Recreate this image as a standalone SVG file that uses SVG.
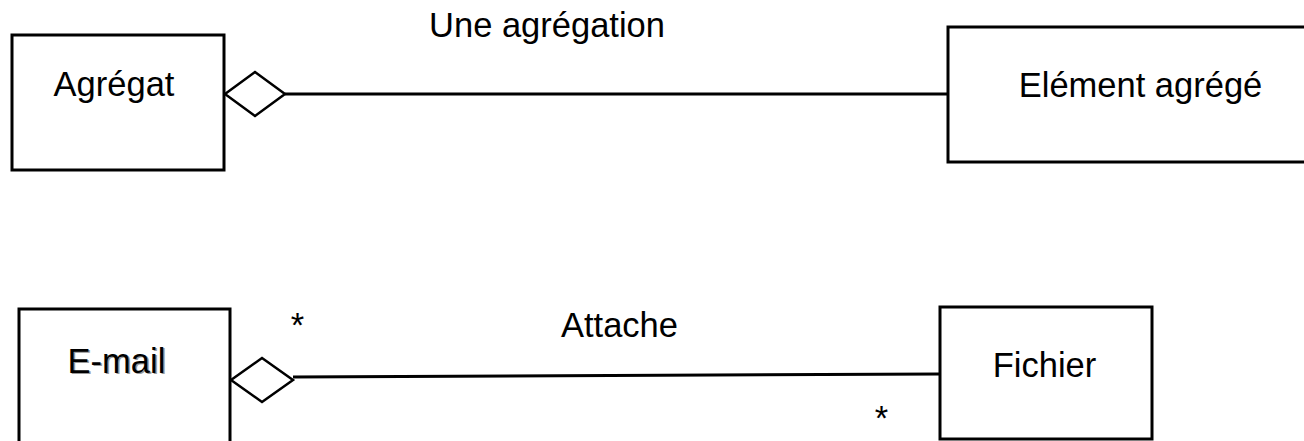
<svg xmlns="http://www.w3.org/2000/svg" width="1304" height="441" viewBox="0 0 1304 441">
<style>
.box{fill:#fff;stroke:#000;stroke-width:3}
.conn{fill:none;stroke:#000;stroke-width:3}
.dia{fill:#fff;stroke:#000;stroke-width:2.5;stroke-linejoin:miter}
text{font-family:"Liberation Sans",Arial,sans-serif;font-size:34.5px;fill:#000}
.shadow{fill:#999}
</style>
<rect width="1304" height="441" fill="#fff"/>
<g id="connectors">
<line class="conn" x1="285" y1="94" x2="948" y2="94"/>
<polygon class="dia" points="225,94 255,72 285,94 255,116"/>
<line class="conn" x1="293" y1="377" x2="940" y2="374"/>
<polygon class="dia" points="231,380 262,358 293,380 262,402"/>
<text x="547" y="37" text-anchor="middle">Une agrégation</text>
<text x="619.5" y="337" text-anchor="middle">Attache</text>
<text x="297.5" y="337" text-anchor="middle">*</text>
<text x="881.5" y="430" text-anchor="middle">*</text>
</g>
<g id="node-agregat">
<rect class="box" x="12" y="35" width="212" height="135"/>
<text x="114" y="96" text-anchor="middle">Agrégat</text>
</g>
<g id="node-element">
<rect class="box" x="948" y="27" width="370" height="135"/>
<text x="1140.5" y="97" text-anchor="middle">Elément agrégé</text>
</g>
<g id="node-email">
<rect class="box" x="19" y="309" width="211" height="150"/>
<text class="shadow" x="118" y="374" text-anchor="middle">E-mail</text>
<text x="116.5" y="372.5" text-anchor="middle">E-mail</text>
</g>
<g id="node-fichier">
<rect class="box" x="940" y="307" width="212" height="132"/>
<text x="1044.5" y="377" text-anchor="middle">Fichier</text>
</g>
</svg>
